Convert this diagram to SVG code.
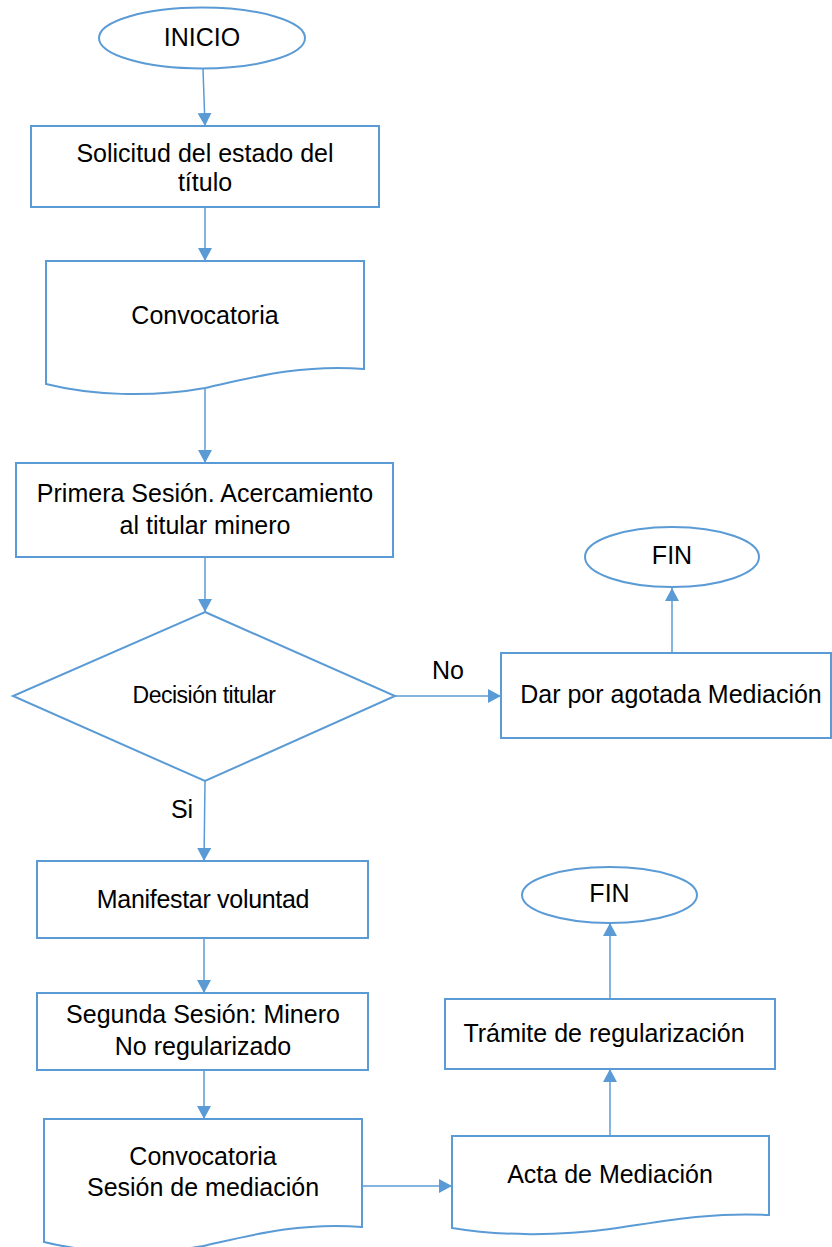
<svg xmlns="http://www.w3.org/2000/svg" width="832" height="1247" viewBox="0 0 832 1247">
<style>
.s{fill:#fff;stroke:#5B9BD5;stroke-width:2}
.c{fill:none;stroke:#5B9BD5;stroke-width:1.5}
.t{font-family:"Liberation Sans",Arial,sans-serif;font-size:25px;fill:#000;text-anchor:middle}
</style>
<defs>
<marker id="a" markerUnits="userSpaceOnUse" markerWidth="14" markerHeight="14" viewBox="0 0 14 14" refX="13" refY="7" orient="auto">
<path d="M0,0 L13,7 L0,14 Z" fill="#5B9BD5"/>
</marker>
</defs>
<rect width="832" height="1247" fill="#fff"/>
<g id="connectors">
<line class="c" x1="203" y1="69" x2="205" y2="126" marker-end="url(#a)"/>
<line class="c" x1="205" y1="207" x2="205" y2="261" marker-end="url(#a)"/>
<line class="c" x1="205" y1="389" x2="205" y2="463" marker-end="url(#a)"/>
<line class="c" x1="205" y1="557" x2="205" y2="612" marker-end="url(#a)"/>
<line class="c" x1="395" y1="696" x2="501" y2="696" marker-end="url(#a)"/>
<line class="c" x1="672" y1="653" x2="672" y2="588" marker-end="url(#a)"/>
<line class="c" x1="205" y1="781" x2="204" y2="861" marker-end="url(#a)"/>
<line class="c" x1="204" y1="938" x2="204" y2="993" marker-end="url(#a)"/>
<line class="c" x1="204" y1="1070" x2="204" y2="1119" marker-end="url(#a)"/>
<line class="c" x1="362" y1="1186" x2="452" y2="1186" marker-end="url(#a)"/>
<line class="c" x1="610" y1="1136" x2="610" y2="1069" marker-end="url(#a)"/>
<line class="c" x1="610" y1="999" x2="610" y2="923" marker-end="url(#a)"/>
<text class="t" x="448" y="679">No</text>
<text class="t" x="182" y="818">Si</text>
</g>
<g id="inicio">
<ellipse class="s" cx="202" cy="38" rx="103" ry="30.5"/>
<text class="t" x="202" y="46">INICIO</text>
</g>
<g id="solicitud">
<rect class="s" x="31" y="126" width="348" height="81"/>
<text class="t" x="205" y="162">Solicitud del estado del</text>
<text class="t" x="205" y="191">título</text>
</g>
<g id="convocatoria1">
<path class="s" d="M46,261 H364 V369 C300,364 250,378 205,388 C150,398 90,395 46,384 Z"/>
<text class="t" x="205" y="324">Convocatoria</text>
</g>
<g id="primera">
<rect class="s" x="16" y="463" width="377" height="94"/>
<text class="t" x="205" y="502">Primera Sesión. Acercamiento</text>
<text class="t" x="205" y="534">al titular minero</text>
</g>
<g id="decision">
<polygon class="s" points="205,612 395,696 205,781 13,696"/>
<text class="t" x="204" y="703" style="font-size:23px;letter-spacing:-0.5px">Decisión titular</text>
</g>
<g id="fin1">
<ellipse class="s" cx="672" cy="557" rx="87" ry="30"/>
<text class="t" x="672" y="564">FIN</text>
</g>
<g id="dar">
<rect class="s" x="501" y="653" width="330" height="85"/>
<text class="t" x="671" y="703">Dar por agotada Mediación</text>
</g>
<g id="manifestar">
<rect class="s" x="37" y="861" width="331" height="77"/>
<text class="t" x="203" y="908" style="letter-spacing:-0.3px">Manifestar voluntad</text>
</g>
<g id="segunda">
<rect class="s" x="37" y="993" width="331" height="77"/>
<text class="t" x="203" y="1023">Segunda Sesión: Minero</text>
<text class="t" x="203" y="1055">No regularizado</text>
</g>
<g id="convocatoria2">
<path class="s" d="M44,1119 H362 V1227 C298,1222 248,1236 203,1246 C148,1256 88,1253 44,1242 Z"/>
<text class="t" x="203" y="1165">Convocatoria</text>
<text class="t" x="203" y="1196">Sesión de mediación</text>
</g>
<g id="acta">
<path class="s" d="M452,1136 H769 V1215 C705,1212 660,1222 610,1229 C560,1236 500,1236 452,1228 Z"/>
<text class="t" x="610" y="1183">Acta de Mediación</text>
</g>
<g id="tramite">
<rect class="s" x="445" y="999" width="330" height="70"/>
<text class="t" x="604" y="1042">Trámite de regularización</text>
</g>
<g id="fin2">
<ellipse class="s" cx="609.5" cy="895" rx="87.5" ry="28"/>
<text class="t" x="609.5" y="902">FIN</text>
</g>
</svg>
